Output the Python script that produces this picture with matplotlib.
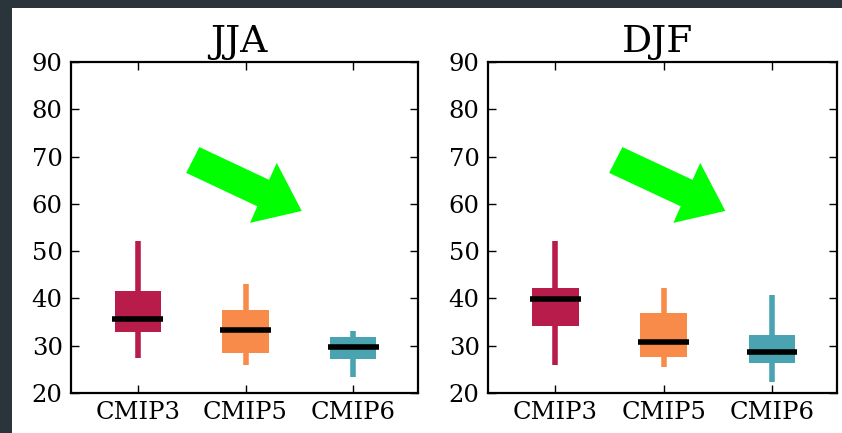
import matplotlib
matplotlib.use('Agg')
import matplotlib.pyplot as plt
import matplotlib.patches as mpatches

plt.rcParams['font.family'] = ['DejaVu Serif']

models = ['CMIP3', 'CMIP5', 'CMIP6']
colors = ['#b81c4a', '#f98b4a', '#49a3b0']
seasons = ['JJA', 'DJF']

# whisker low, q1, median, q3, whisker high
jja_lo  = [27.5, 25.9, 23.4]
jja_q1  = [32.8, 28.5, 27.2]
jja_med = [35.6, 33.3, 29.7]
jja_q3  = [41.6, 37.5, 31.8]
jja_hi  = [52.2, 43.0, 33.2]

djf_lo  = [25.9, 25.4, 22.4]
djf_q1  = [34.1, 27.7, 26.3]
djf_med = [39.9, 30.7, 28.7]
djf_q3  = [42.3, 37.0, 32.2]
djf_hi  = [52.2, 42.1, 40.8]

season_data = {
    'JJA': (jja_lo, jja_q1, jja_med, jja_q3, jja_hi),
    'DJF': (djf_lo, djf_q1, djf_med, djf_q3, djf_hi),
}

BG_DARK = '#29343b'
ARROW_C = '#00ff00'

# arrow outline in axes fraction
arrow_pts = [(0.370, 0.743), (0.571, 0.644), (0.593, 0.695), (0.665, 0.550),
             (0.516, 0.514), (0.537, 0.564), (0.332, 0.665)]
arrow_shift = {'JJA': 0.0, 'DJF': 0.015}

fig = plt.figure(figsize=(8.42, 4.33), dpi=100)
fig.patch.set_facecolor(BG_DARK)
fig.patches.append(mpatches.Rectangle((12 / 842, 0), 1, 1 - 8 / 433,
                                      transform=fig.transFigure,
                                      facecolor='white', edgecolor='none', zorder=-10))

ax_pos = {'JJA': [0.0843, 0.0924, 0.4121, 0.7644],
          'DJF': [0.5796, 0.0924, 0.4145, 0.7644]}

for season in seasons:
    ax = fig.add_axes(ax_pos[season])
    lo, q1, med, q3, hi = season_data[season]
    stats = [dict(whislo=lo[i], q1=q1[i], med=med[i], q3=q3[i], whishi=hi[i],
                  label=models[i], fliers=[]) for i in range(len(models))]
    bp = ax.bxp(stats, positions=[1, 2, 3], widths=0.43, patch_artist=True,
                showcaps=False, showfliers=False,
                medianprops=dict(color='black', linewidth=4.0, solid_capstyle='butt'))
    for i, c in enumerate(colors):
        bp['boxes'][i].set_facecolor(c)
        bp['boxes'][i].set_edgecolor('none')
        for w in bp['whiskers'][2 * i:2 * i + 2]:
            w.set_color(c)
            w.set_linewidth(4.0)
            w.set_solid_capstyle('butt')
    for m in bp['medians']:
        x0, x1 = m.get_xdata()[:2]
        m.set_xdata([x0 - 0.02, x1 + 0.02])

    xs = arrow_shift[season]
    ax.add_patch(mpatches.Polygon([(x + xs, y) for x, y in arrow_pts], closed=True,
                                  transform=ax.transAxes, facecolor=ARROW_C,
                                  edgecolor='none', zorder=5))

    ax.set_xlim(0.38, 3.6)
    ax.set_ylim(20, 90)
    ax.set_yticks(range(20, 91, 10))
    ax.set_xticks([1, 2, 3])
    ax.set_xticklabels(models)
    ax.tick_params(direction='in', top=True, right=True, length=6, width=1,
                   labelsize=17.5, pad=6)
    for sp in ax.spines.values():
        sp.set_linewidth(1.6)
    ax.set_title(season, fontsize=27, pad=7, x=0.485)

fig.savefig('out.png', dpi=100, facecolor=fig.get_facecolor())
